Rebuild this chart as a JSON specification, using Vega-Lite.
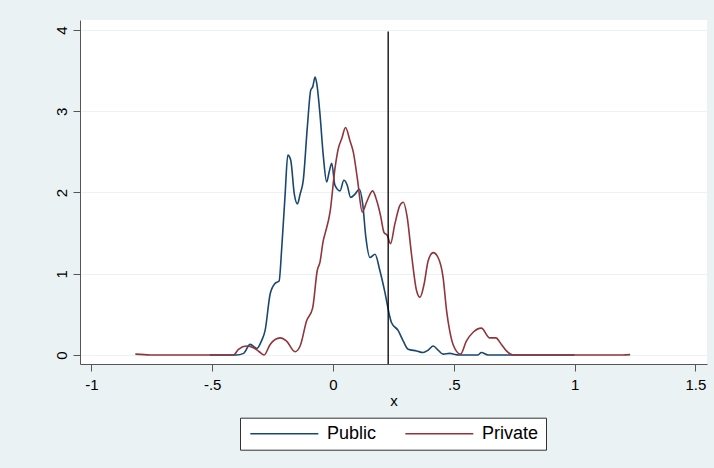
{
  "$schema": "https://vega.github.io/schema/vega-lite/v6.json",
  "width": 627,
  "height": 344,
  "autosize": {"type": "none"},
  "padding": {"left": 80, "top": 20, "right": 7, "bottom": 104},
  "background": "#EAF2F3",
  "config": {
    "view": {"fill": "white", "stroke": null},
    "font": "Liberation Sans"
  },
  "datasets": {
    "dens": [
      {"x": -0.51, "y": 0, "g": "Public"},
      {"x": -0.40, "y": 0, "g": "Public"},
      {"x": -0.37, "y": 0.02, "g": "Public"},
      {"x": -0.343, "y": 0.13, "g": "Public"},
      {"x": -0.315, "y": 0.08, "g": "Public"},
      {"x": -0.295, "y": 0.18, "g": "Public"},
      {"x": -0.281, "y": 0.30, "g": "Public"},
      {"x": -0.260, "y": 0.75, "g": "Public"},
      {"x": -0.240, "y": 0.88, "g": "Public"},
      {"x": -0.223, "y": 0.91, "g": "Public"},
      {"x": -0.212, "y": 1.32, "g": "Public"},
      {"x": -0.198, "y": 1.98, "g": "Public"},
      {"x": -0.187, "y": 2.46, "g": "Public"},
      {"x": -0.175, "y": 2.40, "g": "Public"},
      {"x": -0.160, "y": 1.98, "g": "Public"},
      {"x": -0.147, "y": 1.86, "g": "Public"},
      {"x": -0.136, "y": 1.98, "g": "Public"},
      {"x": -0.123, "y": 2.15, "g": "Public"},
      {"x": -0.106, "y": 2.81, "g": "Public"},
      {"x": -0.092, "y": 3.26, "g": "Public"},
      {"x": -0.084, "y": 3.30, "g": "Public"},
      {"x": -0.074, "y": 3.42, "g": "Public"},
      {"x": -0.067, "y": 3.34, "g": "Public"},
      {"x": -0.054, "y": 2.97, "g": "Public"},
      {"x": -0.040, "y": 2.45, "g": "Public"},
      {"x": -0.026, "y": 2.13, "g": "Public"},
      {"x": -0.016, "y": 2.25, "g": "Public"},
      {"x": -0.005, "y": 2.36, "g": "Public"},
      {"x": 0.008, "y": 2.09, "g": "Public"},
      {"x": 0.029, "y": 2.02, "g": "Public"},
      {"x": 0.045, "y": 2.15, "g": "Public"},
      {"x": 0.059, "y": 2.09, "g": "Public"},
      {"x": 0.073, "y": 1.94, "g": "Public"},
      {"x": 0.091, "y": 1.98, "g": "Public"},
      {"x": 0.109, "y": 2.04, "g": "Public"},
      {"x": 0.123, "y": 1.86, "g": "Public"},
      {"x": 0.136, "y": 1.45, "g": "Public"},
      {"x": 0.153, "y": 1.20, "g": "Public"},
      {"x": 0.174, "y": 1.24, "g": "Public"},
      {"x": 0.194, "y": 1.04, "g": "Public"},
      {"x": 0.215, "y": 0.77, "g": "Public"},
      {"x": 0.233, "y": 0.50, "g": "Public"},
      {"x": 0.242, "y": 0.40, "g": "Public"},
      {"x": 0.270, "y": 0.30, "g": "Public"},
      {"x": 0.291, "y": 0.17, "g": "Public"},
      {"x": 0.311, "y": 0.07, "g": "Public"},
      {"x": 0.346, "y": 0.05, "g": "Public"},
      {"x": 0.373, "y": 0.03, "g": "Public"},
      {"x": 0.394, "y": 0.06, "g": "Public"},
      {"x": 0.415, "y": 0.11, "g": "Public"},
      {"x": 0.435, "y": 0.06, "g": "Public"},
      {"x": 0.456, "y": 0.01, "g": "Public"},
      {"x": 0.483, "y": 0.02, "g": "Public"},
      {"x": 0.50, "y": 0.01, "g": "Public"},
      {"x": 0.52, "y": 0, "g": "Public"},
      {"x": 0.60, "y": 0, "g": "Public"},
      {"x": 0.614, "y": 0.03, "g": "Public"},
      {"x": 0.642, "y": 0, "g": "Public"},
      {"x": 1.0, "y": 0, "g": "Public"},
      {"x": -0.818, "y": 0.01, "g": "Private"},
      {"x": -0.756, "y": 0, "g": "Private"},
      {"x": -0.412, "y": 0, "g": "Private"},
      {"x": -0.391, "y": 0.07, "g": "Private"},
      {"x": -0.357, "y": 0.11, "g": "Private"},
      {"x": -0.329, "y": 0.09, "g": "Private"},
      {"x": -0.305, "y": 0.04, "g": "Private"},
      {"x": -0.285, "y": 0, "g": "Private"},
      {"x": -0.260, "y": 0.13, "g": "Private"},
      {"x": -0.219, "y": 0.21, "g": "Private"},
      {"x": -0.192, "y": 0.17, "g": "Private"},
      {"x": -0.157, "y": 0.04, "g": "Private"},
      {"x": -0.136, "y": 0.11, "g": "Private"},
      {"x": -0.109, "y": 0.42, "g": "Private"},
      {"x": -0.084, "y": 0.58, "g": "Private"},
      {"x": -0.065, "y": 1.04, "g": "Private"},
      {"x": -0.054, "y": 1.14, "g": "Private"},
      {"x": -0.040, "y": 1.41, "g": "Private"},
      {"x": -0.033, "y": 1.49, "g": "Private"},
      {"x": -0.012, "y": 1.76, "g": "Private"},
      {"x": 0.008, "y": 2.29, "g": "Private"},
      {"x": 0.022, "y": 2.54, "g": "Private"},
      {"x": 0.036, "y": 2.66, "g": "Private"},
      {"x": 0.052, "y": 2.80, "g": "Private"},
      {"x": 0.070, "y": 2.64, "g": "Private"},
      {"x": 0.084, "y": 2.50, "g": "Private"},
      {"x": 0.102, "y": 2.15, "g": "Private"},
      {"x": 0.121, "y": 1.76, "g": "Private"},
      {"x": 0.139, "y": 1.88, "g": "Private"},
      {"x": 0.164, "y": 2.02, "g": "Private"},
      {"x": 0.181, "y": 1.90, "g": "Private"},
      {"x": 0.198, "y": 1.70, "g": "Private"},
      {"x": 0.211, "y": 1.51, "g": "Private"},
      {"x": 0.225, "y": 1.47, "g": "Private"},
      {"x": 0.238, "y": 1.37, "g": "Private"},
      {"x": 0.256, "y": 1.61, "g": "Private"},
      {"x": 0.277, "y": 1.84, "g": "Private"},
      {"x": 0.291, "y": 1.88, "g": "Private"},
      {"x": 0.307, "y": 1.70, "g": "Private"},
      {"x": 0.325, "y": 1.24, "g": "Private"},
      {"x": 0.346, "y": 0.79, "g": "Private"},
      {"x": 0.360, "y": 0.71, "g": "Private"},
      {"x": 0.377, "y": 0.87, "g": "Private"},
      {"x": 0.394, "y": 1.16, "g": "Private"},
      {"x": 0.415, "y": 1.26, "g": "Private"},
      {"x": 0.435, "y": 1.20, "g": "Private"},
      {"x": 0.456, "y": 0.95, "g": "Private"},
      {"x": 0.470, "y": 0.55, "g": "Private"},
      {"x": 0.483, "y": 0.30, "g": "Private"},
      {"x": 0.497, "y": 0.13, "g": "Private"},
      {"x": 0.528, "y": 0.01, "g": "Private"},
      {"x": 0.552, "y": 0.17, "g": "Private"},
      {"x": 0.580, "y": 0.28, "g": "Private"},
      {"x": 0.614, "y": 0.33, "g": "Private"},
      {"x": 0.649, "y": 0.21, "g": "Private"},
      {"x": 0.674, "y": 0.21, "g": "Private"},
      {"x": 0.697, "y": 0.13, "g": "Private"},
      {"x": 0.718, "y": 0.05, "g": "Private"},
      {"x": 0.745, "y": 0, "g": "Private"},
      {"x": 1.20, "y": 0, "g": "Private"},
      {"x": 1.23, "y": 0.005, "g": "Private"}
    ],
    "vline": [
      {"x": 0.2285, "top": 3.98, "bottom": -0.111}
    ]
  },
  "layer": [
    {
      "data": {"name": "dens"},
      "mark": {"type": "line", "strokeWidth": 1.6, "interpolate": "monotone"},
      "encoding": {
        "x": {
          "field": "x", "type": "quantitative",
          "scale": {"domain": [-1.047, 1.548], "nice": false, "zero": false},
          "axis": {
            "values": [-1, -0.5, 0, 0.5, 1, 1.5],
            "labelExpr": "datum.value == -0.5 ? '-.5' : datum.value == 0.5 ? '.5' : toString(datum.value)",
            "title": "x",
            "grid": false,
            "tickSize": 7,
            "labelPadding": 18,
            "labelBaseline": "alphabetic",
            "labelFontSize": 15,
            "labelColor": "black",
            "domainColor": "#555555",
            "tickColor": "#555555",
            "titleFontSize": 15,
            "titleFontWeight": "normal",
            "titleColor": "black",
            "titleBaseline": "alphabetic",
            "titleY": 41
          }
        },
        "y": {
          "field": "y", "type": "quantitative",
          "scale": {"domain": [-0.111, 4.123], "nice": false, "zero": false},
          "axis": {
            "values": [0, 1, 2, 3, 4],
            "labelExpr": "toString(datum.value)",
            "title": null,
            "grid": true,
            "gridColor": "#EAF2F3",
            "gridWidth": 1.2,
            "tickSize": 7,
            "labelPadding": 7,
            "labelAngle": -90,
            "labelAlign": "center",
            "labelBaseline": "alphabetic",
            "labelFontSize": 15,
            "labelColor": "black",
            "domainColor": "#555555",
            "tickColor": "#555555"
          }
        },
        "color": {
          "field": "g", "type": "nominal",
          "scale": {"domain": ["Public", "Private"], "range": ["#1A476F", "#90353B"]},
          "legend": {
            "orient": "none",
            "legendX": 160,
            "legendY": 397.7,
            "direction": "horizontal",
            "title": null,
            "symbolType": "M-1,0L11,0",
            "symbolSize": 128.4,
            "symbolStrokeWidth": 1.6,
            "labelFontSize": 18,
            "labelOffset": 62,
            "labelColor": "black",
            "columnPadding": 25,
            "padding": 7,
            "fillColor": "white",
            "strokeColor": "#333333",
            "cornerRadius": 0
          }
        }
      }
    },
    {
      "data": {"name": "vline"},
      "mark": {"type": "rule", "color": "black", "strokeWidth": 1.3},
      "encoding": {
        "x": {"field": "x", "type": "quantitative"},
        "y": {"field": "top", "type": "quantitative"},
        "y2": {"field": "bottom"}
      }
    }
  ]
}
